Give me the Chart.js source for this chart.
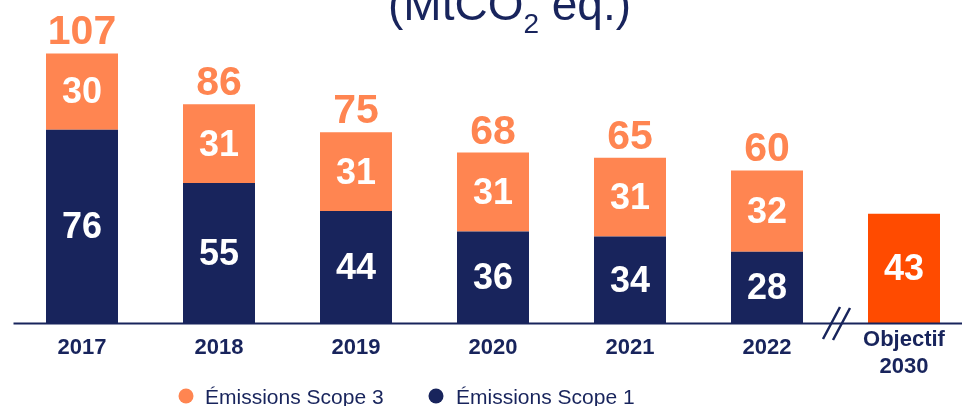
<!DOCTYPE html>
<html>
<head>
<meta charset="utf-8">
<script src="https://cdn.jsdelivr.net/npm/chart.js@4/dist/chart.umd.min.js"></script>
<style>
  html, body { margin: 0; padding: 0; background: #fff; overflow: hidden; }
  canvas { display: block; }
</style>
</head>
<body>
<canvas id="emissionsChart" width="975" height="406"></canvas>
<script>
var years = ["2017", "2018", "2019", "2020", "2021", "2022", "Objectif 2030"];
var tickLabels = [["2017"], ["2018"], ["2019"], ["2020"], ["2021"], ["2022"], ["Objectif", "2030"]];
var scope1 = [76, 55, 44, 36, 34, 28, null];
var scope3 = [30, 31, 31, 31, 31, 32, null];
var objective = [null, null, null, null, null, null, 43];
var totals = [107, 86, 75, 68, 65, 60, null];

var navy = "#18245c";
var orange = "#ff8551";
var red = "#ff4b00";

var labelsPlugin = {
    id: "labels",
    afterDatasetsDraw: function (chart) {
        var ctx = chart.ctx;
        var area = chart.chartArea;
        var xScale = chart.scales.x;
        ctx.save();

        // baseline
        ctx.strokeStyle = navy;
        ctx.lineWidth = 2;
        ctx.beginPath();
        ctx.moveTo(area.left, area.bottom + 0.5);
        ctx.lineTo(chart.width, area.bottom + 0.5);
        ctx.stroke();

        // values inside the bars
        ctx.textAlign = "center";
        ctx.textBaseline = "middle";
        ctx.fillStyle = "#fff";
        ctx.font = "bold 36px 'Liberation Sans', Arial, sans-serif";
        chart.data.datasets.forEach(function (ds, di) {
            var meta = chart.getDatasetMeta(di);
            meta.data.forEach(function (bar, i) {
                if (ds.data[i] == null) return;
                ctx.fillText(ds.data[i], bar.x, (bar.y + bar.base) / 2 + 2);
            });
        });

        // totals above
        var top = chart.getDatasetMeta(1);
        ctx.fillStyle = orange;
        ctx.font = "bold 41px 'Liberation Sans', Arial, sans-serif";
        ctx.textBaseline = "alphabetic";
        top.data.forEach(function (bar, i) {
            if (totals[i] == null) return;
            ctx.fillText(totals[i], bar.x, bar.y - 9);
        });

        // category labels
        ctx.fillStyle = navy;
        ctx.font = "bold 22px 'Liberation Sans', Arial, sans-serif";
        ctx.textBaseline = "middle";
        tickLabels.forEach(function (lines, i) {
            var x = xScale.getPixelForValue(i);
            if (lines.length === 1) {
                ctx.fillText(lines[0], x, area.bottom + 25);
            } else {
                ctx.fillText(lines[0], x, area.bottom + 17);
                ctx.fillText(lines[1], x, area.bottom + 44);
            }
        });

        // axis break mark
        ctx.strokeStyle = navy;
        ctx.lineWidth = 2.5;
        ctx.beginPath();
        ctx.moveTo(823, area.bottom + 16);
        ctx.lineTo(840, area.bottom - 16);
        ctx.moveTo(833, area.bottom + 17);
        ctx.lineTo(850, area.bottom - 15);
        ctx.stroke();

        // title (cut at the top)
        ctx.fillStyle = navy;
        ctx.textAlign = "left";
        ctx.textBaseline = "alphabetic";
        ctx.font = "46px 'Liberation Sans', Arial, sans-serif";
        var x0 = 388;
        ctx.fillText("(MtCO", x0, 20);
        var w1 = ctx.measureText("(MtCO").width;
        ctx.font = "28px 'Liberation Sans', Arial, sans-serif";
        ctx.fillText("2", x0 + w1, 33);
        var w2 = ctx.measureText("2").width;
        ctx.font = "46px 'Liberation Sans', Arial, sans-serif";
        ctx.fillText(" eq.)", x0 + w1 + w2, 20);

        // legend
        ctx.font = "21px 'Liberation Sans', Arial, sans-serif";
        ctx.textBaseline = "alphabetic";
        [[orange, "Émissions Scope 3", 186, 205], [navy, "Émissions Scope 1", 436, 456]].forEach(function (l) {
            ctx.fillStyle = l[0];
            ctx.beginPath();
            ctx.arc(l[2], 396, 7.5, 0, Math.PI * 2);
            ctx.fill();
            ctx.fillStyle = navy;
            ctx.fillText(l[1], l[3], 404);
        });

        ctx.restore();
    }
};

new Chart(document.getElementById("emissionsChart"), {
    type: "bar",
    data: {
        labels: years,
        datasets: [
            { label: "Émissions Scope 1", data: scope1, backgroundColor: navy },
            { label: "Émissions Scope 3", data: scope3, backgroundColor: orange },
            { label: "Objectif 2030", data: objective, backgroundColor: red }
        ]
    },
    options: {
        responsive: false,
        animation: false,
        barPercentage: 1,
        categoryPercentage: 72 / 137,
        layout: { padding: { left: 13.5, right: 2.5, top: 0, bottom: 83 } },
        plugins: {
            legend: { display: false },
            tooltip: { enabled: false }
        },
        scales: {
            x: { stacked: true, display: false },
            y: { stacked: true, display: false, min: 0, max: 127 }
        }
    },
    plugins: [labelsPlugin]
});
</script>
</body>
</html>
